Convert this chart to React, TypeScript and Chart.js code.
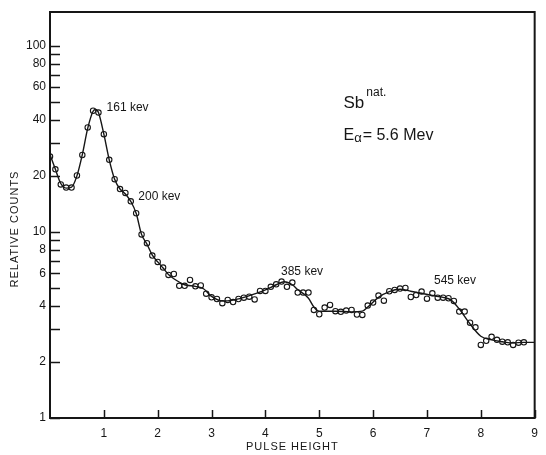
import React, { useEffect, useRef } from 'react';
import { Chart, registerables } from 'chart.js';

Chart.register(...registerables);

// measured data points (pulse height, relative counts)
const pointX = [
  0.0, 0.1, 0.2, 0.3, 0.4, 0.5, 0.6, 0.7, 0.8, 0.9,
  1.0, 1.1, 1.2, 1.3, 1.4, 1.5, 1.6, 1.7, 1.8, 1.9,
  2.0, 2.1, 2.2, 2.3, 2.4, 2.5, 2.6, 2.7, 2.8, 2.9,
  3.0, 3.1, 3.2, 3.3, 3.4, 3.5, 3.6, 3.7, 3.8, 3.9,
  4.0, 4.1, 4.2, 4.3, 4.4, 4.5, 4.6, 4.7, 4.8, 4.9,
  5.0, 5.1, 5.2, 5.3, 5.4, 5.5, 5.6, 5.7, 5.8, 5.9,
  6.0, 6.1, 6.2, 6.3, 6.4, 6.5, 6.6, 6.7, 6.8, 6.9,
  7.0, 7.1, 7.2, 7.3, 7.4, 7.5, 7.6, 7.7, 7.8, 7.9,
  8.0, 8.1, 8.2, 8.3, 8.4, 8.5, 8.6, 8.7, 8.8,
];
const pointY = [
  25.4, 21.7, 18.0, 17.3, 17.3, 20.1, 25.9, 36.4, 44.8, 43.8,
  33.5, 24.4, 19.2, 17.0, 16.2, 14.6, 12.6, 9.7, 8.7, 7.46,
  6.9, 6.43, 5.87, 5.94, 5.13, 5.13, 5.52, 5.1, 5.16, 4.66,
  4.45, 4.36, 4.14, 4.31, 4.2, 4.36, 4.43, 4.49, 4.34, 4.82,
  4.82, 5.07, 5.23, 5.41, 5.07, 5.34, 4.72, 4.72, 4.72, 3.81,
  3.61, 3.92, 4.05, 3.75, 3.72, 3.78, 3.81, 3.6, 3.58, 4.02,
  4.17, 4.55, 4.27, 4.8, 4.88, 4.96, 5.0, 4.47, 4.58, 4.78,
  4.38, 4.68, 4.43, 4.43, 4.4, 4.26, 3.73, 3.73, 3.25, 3.07,
  2.47, 2.6, 2.73, 2.63, 2.57, 2.55, 2.47, 2.54, 2.55,
];

// hand-drawn smooth curve
const fitX = [
  0, 0.1, 0.2, 0.3, 0.4, 0.5, 0.6, 0.7, 0.8, 0.85, 0.9, 1.0, 1.1, 1.2, 1.3, 1.4,
  1.5, 1.6, 1.7, 1.8, 1.9, 2.0, 2.1, 2.2, 2.3, 2.5, 2.7, 2.85, 3.0, 3.2, 3.4,
  3.6, 3.8, 4.0, 4.2, 4.35, 4.5, 4.6, 4.8, 4.9, 5.0, 5.3, 5.6, 5.8, 5.9, 6.1,
  6.3, 6.5, 6.7, 6.9, 7.1, 7.3, 7.45, 7.6, 7.8, 8.0, 8.2, 8.4, 8.6, 8.8, 9.0,
];
const fitY = [
  26, 21.7, 18.2, 17.2, 17.4, 20.0, 26.0, 36.0, 44.5, 45.5, 43.8, 33.5, 24.4, 19.2, 17.0, 16.0,
  14.6, 12.6, 9.7, 8.6, 7.5, 6.9, 6.4, 5.9, 5.6, 5.2, 5.1, 4.95, 4.5, 4.25, 4.3,
  4.45, 4.65, 4.88, 5.2, 5.4, 5.2, 4.9, 4.4, 3.95, 3.75, 3.75, 3.72, 3.75, 3.95, 4.45,
  4.78, 4.92, 4.8, 4.68, 4.55, 4.45, 4.3, 3.85, 3.2, 2.75, 2.63, 2.57, 2.53, 2.55, 2.55,
];

const yTickValues = [1, 2, 3, 4, 5, 6, 7, 8, 9, 10, 20, 30, 40, 50, 60, 70, 80, 90, 100];
const yTickLabels = [1, 2, 4, 6, 8, 10, 20, 40, 60, 80, 100];
const xTickValues = [1, 2, 3, 4, 5, 6, 7, 8, 9];

const peakLabels = ['161 kev', '200 kev', '385 kev', '545 kev'];
const peakLabelX = [1.05, 1.64, 4.29, 7.13];
const peakLabelY = [46.4, 15.4, 6.1, 5.5];

const INK = '#161616';
const FONT = '"Liberation Sans", Arial, sans-serif';

const decorPlugin = {
  id: 'decor',
  afterDraw(chart: any) {
    const { ctx, chartArea: a, scales } = chart;
    const xs = scales.x;
    const ys = scales.y;
    ctx.save();
    ctx.strokeStyle = INK;
    ctx.fillStyle = INK;
    ctx.lineWidth = 2;
    ctx.strokeRect(a.left, a.top, a.right - a.left, a.bottom - a.top);
    ctx.lineWidth = 1.5;
    yTickValues.forEach((v) => {
      const py = Math.round(ys.getPixelForValue(v)) + 0.5;
      ctx.beginPath();
      ctx.moveTo(a.left, py);
      ctx.lineTo(a.left + 10, py);
      ctx.stroke();
    });
    xTickValues.forEach((v) => {
      const px = Math.round(xs.getPixelForValue(v)) + 0.5;
      ctx.beginPath();
      ctx.moveTo(px, a.bottom);
      ctx.lineTo(px, a.bottom - 8);
      ctx.stroke();
    });

    // axis titles
    ctx.font = `11px ${FONT}`;
    (ctx as any).letterSpacing = '1px';
    ctx.textAlign = 'center';
    ctx.textBaseline = 'middle';
    ctx.fillText('PULSE HEIGHT', (a.left + a.right) / 2, 447);
    ctx.save();
    ctx.translate(15, 229);
    ctx.rotate(-Math.PI / 2);
    ctx.fillText('RELATIVE COUNTS', 0, 0);
    ctx.restore();
    (ctx as any).letterSpacing = '0px';

    // peak labels
    ctx.font = `12px ${FONT}`;
    ctx.textAlign = 'left';
    ctx.textBaseline = 'middle';
    peakLabels.forEach((t, i) => {
      ctx.fillText(t, xs.getPixelForValue(peakLabelX[i]), ys.getPixelForValue(peakLabelY[i]));
    });

    // target annotation
    const lx = xs.getPixelForValue(5.45);
    const sbY = ys.getPixelForValue(46.4);
    ctx.textBaseline = 'alphabetic';
    ctx.font = `17px ${FONT}`;
    ctx.fillText('Sb', lx, sbY);
    const sbW = ctx.measureText('Sb').width;
    ctx.font = `12px ${FONT}`;
    ctx.fillText('nat.', lx + sbW + 2, sbY - 12);
    const eY = ys.getPixelForValue(31.2);
    ctx.font = `16px ${FONT}`;
    ctx.fillText('E', lx, eY);
    let cx = lx + ctx.measureText('E').width;
    ctx.font = `13px ${FONT}`;
    ctx.fillText('α', cx, eY + 2);
    cx += ctx.measureText('α').width + 1;
    ctx.font = `16px ${FONT}`;
    ctx.fillText('= 5.6 Mev', cx, eY);
    ctx.restore();
  },
};

export default function App() {
  const ref = useRef<HTMLCanvasElement | null>(null);

  useEffect(() => {
    if (!ref.current) return;
    const chart = new Chart(ref.current, {
      type: 'scatter',
      data: {
        datasets: [
          {
            label: 'curve',
            data: fitX.map((x, i) => ({ x, y: fitY[i] })),
            showLine: true,
            borderColor: INK,
            borderWidth: 1.4,
            pointRadius: 0,
            cubicInterpolationMode: 'monotone',
            fill: false,
          },
          {
            label: 'points',
            data: pointX.map((x, i) => ({ x, y: pointY[i] })),
            showLine: false,
            pointRadius: 2.7,
            pointStyle: 'circle',
            pointBackgroundColor: '#ffffff',
            pointBorderColor: INK,
            pointBorderWidth: 1.1,
          },
        ],
      },
      options: {
        responsive: false,
        animation: false,
        events: [],
        layout: { padding: { top: 12, right: 1, left: 0, bottom: 0 } },
        plugins: {
          legend: { display: false },
          tooltip: { enabled: false },
        },
        scales: {
          x: {
            type: 'linear',
            min: 0,
            max: 9,
            afterBuildTicks: (s: any) => {
              s.ticks = xTickValues.map((v) => ({ value: v }));
            },
            afterFit: (s: any) => {
              s.height = 37;
            },
            grid: { display: false, drawTicks: false },
            border: { display: false },
            ticks: {
              autoSkip: false,
              maxRotation: 0,
              padding: 8,
              color: INK,
              font: { family: FONT, size: 12 },
              callback: (v: any) => String(v),
            },
          },
          y: {
            type: 'logarithmic',
            min: 1,
            max: 152,
            afterBuildTicks: (s: any) => {
              s.ticks = yTickValues.map((v) => ({ value: v }));
            },
            afterFit: (s: any) => {
              s.width = 50;
            },
            grid: { display: false, drawTicks: false },
            border: { display: false },
            ticks: {
              autoSkip: false,
              padding: 4,
              color: INK,
              font: { family: FONT, size: 12 },
              callback: (v: any) => (yTickLabels.includes(Number(v)) ? String(v) : ''),
            },
          },
        },
      },
      plugins: [decorPlugin],
    } as any);
    return () => chart.destroy();
  }, []);

  return (
    <div style={{ position: 'fixed', left: 0, top: 0, width: 546, height: 455, background: '#fff' }}>
      <canvas ref={ref} width={546} height={455} style={{ display: 'block' }} />
    </div>
  );
}
